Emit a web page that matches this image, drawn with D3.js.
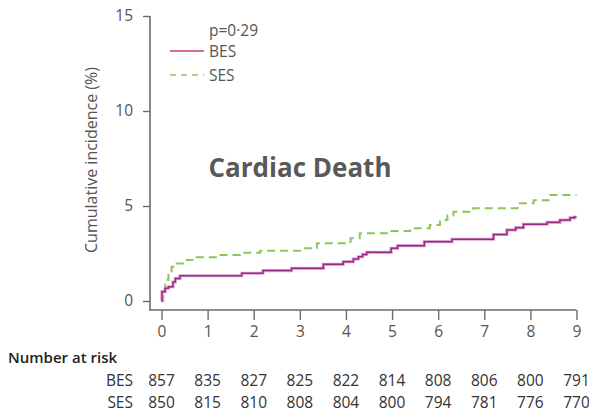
<!DOCTYPE html>
<html>
<head>
<meta charset="utf-8">
<script src="https://cdn.jsdelivr.net/npm/d3@7"></script>
<style>
  html, body { margin: 0; padding: 0; background: #fff; }
  svg { display: block; }
  text { font-family: "Open Sans", "Noto Sans", sans-serif; }
</style>
</head>
<body>
<svg id="chart" width="589" height="415"></svg>
<script>
// Cumulative incidence of cardiac death (%), step curves: [year, value]
const besCurve = [
  [0, 0], [0.01, 0.49], [0.08, 0.67], [0.15, 0.75], [0.25, 1.0], [0.3, 1.19], [0.4, 1.33],
  [1.74, 1.46], [2.2, 1.6], [2.82, 1.72], [3.51, 1.93], [3.94, 2.07], [4.16, 2.21],
  [4.27, 2.33], [4.36, 2.45], [4.45, 2.56], [4.98, 2.77], [5.12, 2.91], [5.7, 3.12],
  [6.3, 3.25], [7.2, 3.5], [7.49, 3.74], [7.68, 3.86], [7.85, 4.04], [8.36, 4.14],
  [8.64, 4.26], [8.86, 4.38], [8.95, 4.42], [9, 4.42]
];
const sesCurve = [
  [0, 0], [0.04, 0.58], [0.08, 1.1], [0.15, 1.37], [0.22, 1.8], [0.33, 1.98], [0.55, 2.16],
  [0.7, 2.3], [1.2, 2.42], [1.7, 2.54], [2.14, 2.65], [3.08, 2.77], [3.37, 3.04],
  [4.1, 3.3], [4.3, 3.56], [4.96, 3.68], [5.39, 3.83], [5.82, 4.0], [6.04, 4.26],
  [6.2, 4.5], [6.33, 4.7], [6.76, 4.88], [7.72, 5.14], [8.07, 5.3], [8.43, 5.58], [9, 5.58]
];

const years = [0, 1, 2, 3, 4, 5, 6, 7, 8, 9];
const yTicks = [0, 5, 10, 15];
const besAtRisk = [857, 835, 827, 825, 822, 814, 808, 806, 800, 791];
const sesAtRisk = [850, 815, 810, 808, 804, 800, 794, 781, 776, 770];

const svg = d3.select("#chart");
const textColor = "#555";
const axisColor = "#6b6b6b";
const besColor = "#9c2a85";
const besHalo = "#d9a6cf";
const sesColor = "#8cc657";

const x = d3.scaleLinear().domain([0, 9]).range([161.5, 576.5]);
const y = d3.scaleLinear().domain([0, 15]).range([301, 16]);

// Y axis
const yAxisG = svg.append("g").attr("transform", "translate(150,0)")
  .call(d3.axisLeft(y).tickValues(yTicks).tickSize(7).tickSizeOuter(0).tickPadding(10));
yAxisG.select(".domain").remove();
yAxisG.append("line").attr("x1", 0).attr("x2", 0).attr("y1", y(15)).attr("y2", 311)
  .attr("stroke", axisColor).attr("stroke-width", 1.6);

// X axis
const xAxisG = svg.append("g").attr("transform", "translate(0,310)")
  .call(d3.axisBottom(x).tickValues(years).tickSize(10).tickSizeOuter(0).tickPadding(6));
xAxisG.select(".domain").remove();
xAxisG.append("line").attr("x1", 150).attr("x2", x(9)).attr("y1", 0).attr("y2", 0)
  .attr("stroke", axisColor).attr("stroke-width", 1.6);

[yAxisG, xAxisG].forEach(g => {
  g.selectAll(".tick line").attr("stroke", axisColor).attr("stroke-width", 1.4);
  g.selectAll(".tick text").attr("fill", textColor).style("font-size", "15.5px")
    .style("font-family", "'Open Sans', sans-serif");
});

// Axis title
svg.append("text")
  .attr("transform", "translate(97,160) rotate(-90)")
  .attr("text-anchor", "middle")
  .attr("fill", textColor)
  .style("font-size", "16px")
  .text("Cumulative incidence (%)");

// Curves
const line = d3.line().x(d => x(d[0])).y(d => y(d[1])).curve(d3.curveStepAfter);

svg.append("path").datum(sesCurve).attr("d", line)
  .attr("fill", "none").attr("stroke", sesColor).attr("stroke-width", 2)
  .attr("stroke-dasharray", "8,5");

svg.append("path").datum(besCurve).attr("d", line)
  .attr("fill", "none").attr("stroke", besHalo).attr("stroke-width", 3.2);
svg.append("path").datum(besCurve).attr("d", line)
  .attr("fill", "none").attr("stroke", besColor).attr("stroke-width", 1.5);

// Legend
svg.append("text").attr("x", 209).attr("y", 36).attr("fill", textColor)
  .style("font-size", "15.5px").text("p=0·29");
svg.append("line").attr("x1", 170).attr("x2", 204).attr("y1", 51).attr("y2", 51)
  .attr("stroke", "#c0406e").attr("stroke-width", 1.6);
svg.append("text").attr("x", 209).attr("y", 57).attr("fill", textColor)
  .style("font-size", "15.5px").text("BES");
svg.append("line").attr("x1", 170).attr("x2", 204).attr("y1", 75).attr("y2", 75)
  .attr("stroke", sesColor).attr("stroke-width", 1.6).attr("stroke-dasharray", "6,5");
svg.append("text").attr("x", 209).attr("y", 81).attr("fill", textColor)
  .style("font-size", "15.5px").text("SES");

// Title
svg.append("text").attr("x", 300).attr("y", 177).attr("text-anchor", "middle")
  .attr("fill", "#595959").style("font-size", "26px").style("font-weight", "bold")
  .text("Cardiac Death");

// Number at risk table
svg.append("text").attr("x", 8).attr("y", 363).attr("fill", "#222")
  .style("font-size", "15px").style("font-weight", "600").text("Number at risk");

const rows = [["BES", besAtRisk, 386], ["SES", sesAtRisk, 408]];
rows.forEach(([name, vals, yy]) => {
  svg.append("text").attr("x", 133).attr("y", yy).attr("text-anchor", "end")
    .attr("fill", "#333").style("font-size", "15.5px").text(name);
  svg.append("g").selectAll("text").data(vals).join("text")
    .attr("x", (d, i) => x(years[i])).attr("y", yy).attr("text-anchor", "middle")
    .attr("fill", "#333").style("font-size", "15.5px").text(d => d);
});
</script>
</body>
</html>
